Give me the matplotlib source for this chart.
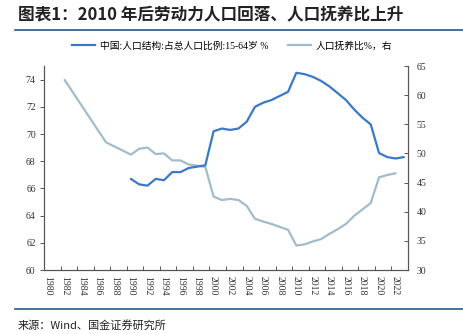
import matplotlib
matplotlib.use('Agg')
import matplotlib.pyplot as plt
from matplotlib.lines import Line2D
import numpy as np

plt.rcParams['font.family'] = ['Liberation Serif', 'Noto Sans CJK SC']

# 中国 15-64岁人口占比 (%), 左轴
years_work = list(range(1990, 2024))
work_share = [66.7, 66.3, 66.2, 66.7, 66.6, 67.2, 67.2, 67.5, 67.6, 67.7,
              70.2, 70.4, 70.3, 70.4, 70.9, 72.0, 72.3, 72.5, 72.8, 73.1,
              74.5, 74.4, 74.2, 73.9, 73.5, 73.0, 72.5, 71.8, 71.2, 70.7,
              68.6, 68.3, 68.2, 68.3]

# 人口抚养比 (%), 右轴
years_dep = [1982, 1987] + list(range(1990, 2023))
dep_ratio = [62.6, 51.9, 49.8, 50.8, 51.0, 49.9, 50.0, 48.8, 48.8, 48.1, 47.9, 47.7,
             42.6, 42.0, 42.2, 42.0, 41.0, 38.8, 38.3, 37.9, 37.4, 36.9,
             34.2, 34.4, 34.9, 35.3, 36.2, 37.0, 37.9, 39.3, 40.4, 41.5,
             45.9, 46.3, 46.6]

label_years = list(range(1980, 2024, 2))

c_work = '#3a78c8'
c_dep = '#a2bccb'
spine_c = '#555555'

fig = plt.figure(figsize=(4.64, 3.34), dpi=100)
ax = fig.add_axes([44/464, 1-270/334, 364/464, 204/334])
ax2 = ax.twinx()

ax.plot(years_work, work_share, color=c_work, lw=1.6, solid_capstyle='round', zorder=3)
ax2.plot(years_dep, dep_ratio, color=c_dep, lw=1.6, solid_capstyle='round')
ax.set_zorder(ax2.get_zorder() + 1)
ax.patch.set_visible(False)

ax.set_xlim(1979.5, 2023.5)
ax.set_ylim(60, 75)
ax2.set_ylim(30, 65)
ax.set_yticks(np.arange(60, 75, 2))
ax2.set_yticks(np.arange(30, 66, 5))

ax.set_xticks(label_years)
ax.set_xticklabels([str(y) for y in label_years], rotation=270, fontsize=7, color='#333333')
ax.set_xticks(np.arange(1979.5, 2024, 2), minor=True)
ax.tick_params(axis='x', which='major', length=0, pad=4)
ax.tick_params(axis='x', which='minor', length=3, direction='in', color=spine_c, width=0.7)
ax.tick_params(axis='y', labelsize=7, length=3, width=0.7, color=spine_c, labelcolor='#333333', pad=3)
ax2.tick_params(axis='y', labelsize=7, length=3, width=0.7, direction='in', color=spine_c, labelcolor='#333333', pad=6)

for a in (ax, ax2):
    a.spines['top'].set_visible(False)
    for s in ('left', 'right', 'bottom'):
        a.spines[s].set_color(spine_c)
        a.spines[s].set_linewidth(0.8)

handles = [Line2D([], [], color=c_work, lw=1.6), Line2D([], [], color=c_dep, lw=1.6)]
fig.legend(handles, ['中国:人口结构:占总人口比例:15-64岁 %', '人口抚养比%，右'],
           loc='center', bbox_to_anchor=(0.5, 1-46/334), ncol=2, frameon=False,
           fontsize=7, handlelength=2.4, columnspacing=2.0, handletextpad=0.5)

fig.text(18/464, 1-15/334, '图表1：2010 年后劳动力人口回落、人口抚养比上升',
         fontsize=12, fontweight='bold', style='italic', color='#222222',
         va='center', family=['Noto Sans CJK SC'])
fig.add_artist(Line2D([15/464, 1], [1-30/334, 1-30/334], color='#1f5c8b', lw=1.2))
fig.add_artist(Line2D([15/464, 1], [1-309/334, 1-309/334], color='#1f5c8b', lw=1.2))
fig.text(18/464, 1-325/334, '来源：Wind、国金证券研究所', fontsize=8, color='#222222',
         va='center', family=['Noto Sans CJK SC'])

fig.savefig('out.png', dpi=100)
